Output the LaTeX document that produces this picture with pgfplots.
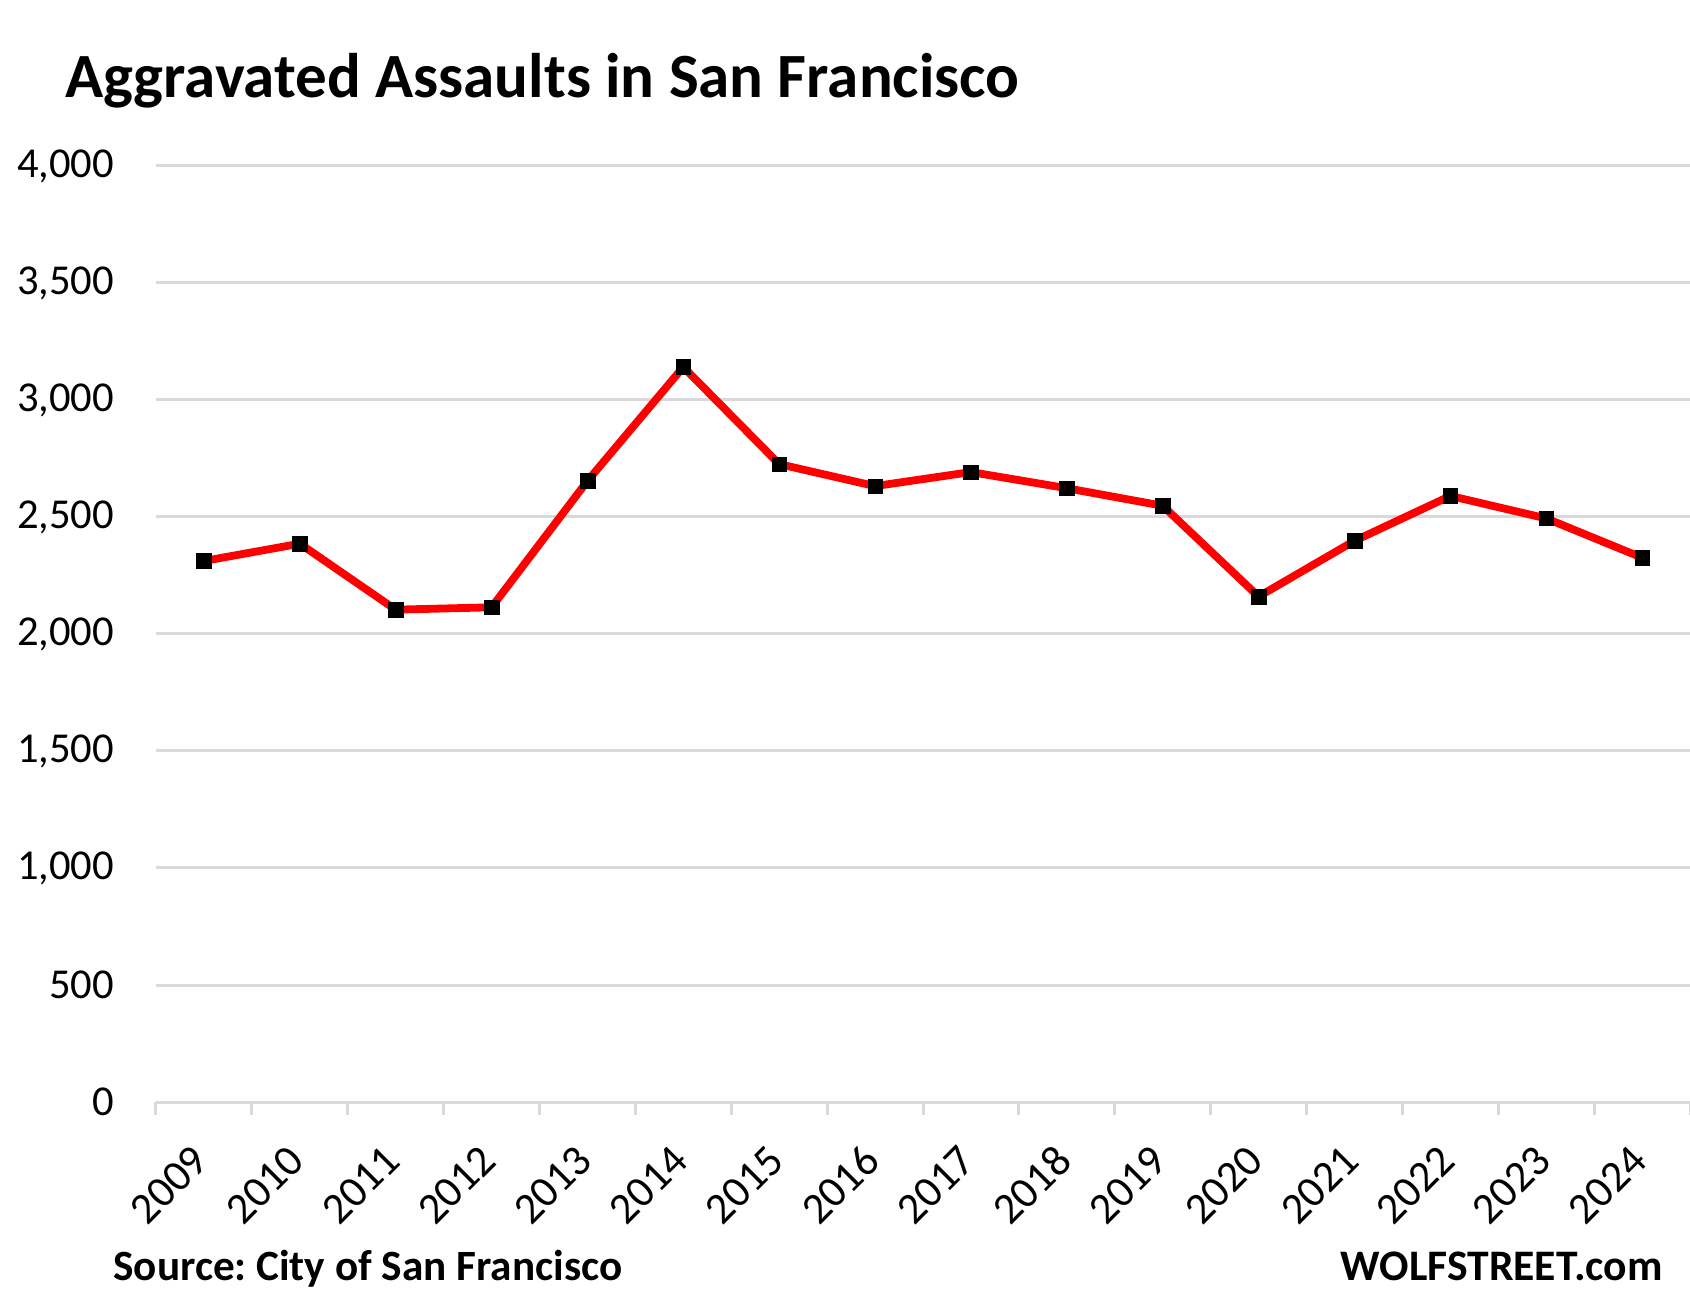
\documentclass[border=0pt]{standalone}
\usepackage{pgfplots}
\pgfplotsset{compat=1.18}
\usepackage{fontspec}
\setmainfont{Carlito}
\frenchspacing
\definecolor{gridgray}{RGB}{217,217,217}
\begin{document}
\begin{tikzpicture}
\path[use as bounding box] (0,0) rectangle (845pt,653pt);
\begin{axis}[
  at={(78pt,102pt)}, anchor=south west,
  scale only axis, width=767pt, height=468pt,
  xmin=-0.5, xmax=15.5, ymin=0, ymax=4000,
  axis line style={draw=none},
  ytick={0,500,...,4000},
  ymajorgrids, grid style={gridgray, line width=1.5pt},
  ytick style={draw=none},
  scaled y ticks=false,
  yticklabel style={anchor=east, inner sep=0pt, xshift=-20.8pt, font=\fontsize{21.3}{25}\selectfont},
  /pgf/number format/.cd, fixed, precision=0, 1000 sep={,}, assume math mode=true,
  /pgfplots/.cd,
  xtick={0,...,15},
  xticklabels={2009,2010,2011,2012,2013,2014,2015,2016,2017,2018,2019,2020,2021,2022,2023,2024},
  major x tick style={draw=none},
  minor xtick={-0.5,0.5,...,15.5},
  xtick pos=bottom, tick align=outside,
  minor tick length=6.5pt, major tick length=0pt,
  minor x tick style={gridgray, line width=1.5pt},
  xticklabel style={xshift=-1.5pt, yshift=-25.5pt, rotate=45, anchor=east, inner sep=0pt, font=\fontsize{22}{26}\selectfont},
  clip=false,
]
\addplot[red, line width=3.9pt, mark=square*, mark size=3.65pt, mark options={solid, fill=black, draw=black, line width=0.2pt}]
coordinates {
(0,2312) (1,2386) (2,2104) (3,2114) (4,2654) (5,3141) (6,2726) (7,2632)
(8,2692) (9,2623) (10,2548) (11,2160) (12,2398) (13,2590) (14,2494) (15,2326)
};
\end{axis}
\node[anchor=base west, inner sep=0pt, font=\bfseries\fontsize{31.5}{36}\selectfont] at (32.5pt,604.2pt) {Aggravated Assaults in San Francisco};
\node[anchor=base west, inner sep=0pt, font=\bfseries\fontsize{21.6}{25}\selectfont] at (56.5pt,13pt) {Source: City of San Francisco};
\node[anchor=base east, inner sep=0pt, font=\bfseries\fontsize{21.8}{25}\selectfont] at (831.5pt,13pt) {WOLFSTREET.com};
\end{tikzpicture}
\end{document}
